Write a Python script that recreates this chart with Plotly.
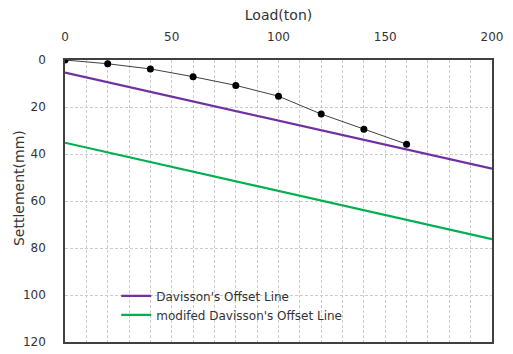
import plotly.graph_objects as go

load = [0, 20, 40, 60, 80, 100, 120, 140, 160]
settlement = [0, 1.6, 3.8, 7.1, 10.8, 15.4, 23.0, 29.5, 35.8]

offset_x = [0, 200]
davisson_y = [5.4, 46.2]
modified_y = [35.2, 76.2]

fig = go.Figure()
fig.add_trace(go.Scatter(x=load, y=settlement, mode="lines+markers",
                         line=dict(color="#404040", width=1),
                         marker=dict(color="black", size=7),
                         showlegend=False))
fig.add_trace(go.Scatter(x=offset_x, y=davisson_y, mode="lines",
                         line=dict(color="#7030A0", width=2.2),
                         name="Davisson's Offset Line"))
fig.add_trace(go.Scatter(x=offset_x, y=modified_y, mode="lines",
                         line=dict(color="#00B050", width=2.2),
                         name="modifed Davisson's Offset Line"))

font = "DejaVu Sans"
grid = dict(gridcolor="#cccccc", griddash="3px,2px", gridwidth=1)
fig.update_layout(
    width=513, height=354,
    margin=dict(l=65, r=21, t=60, b=12),
    paper_bgcolor="white", plot_bgcolor="white",
    font=dict(family=font, size=12, color="#333333"),
    legend=dict(x=0.12, y=0.215, xanchor="left", yanchor="top",
                bgcolor="rgba(0,0,0,0)", font=dict(size=12, color="#333333"),
                itemwidth=30, tracegroupgap=0),
    annotations=[dict(text="Settlement(mm)", textangle=-90, showarrow=False,
                      xref="paper", yref="paper", x=0, y=0.546,
                      xanchor="center", yanchor="middle", xshift=-46,
                      font=dict(size=14, color="#333333"))],
)
fig.update_xaxes(
    side="top", range=[0, 200], dtick=50, tick0=0, automargin=False,
    tickfont=dict(size=12),
    title=dict(text="Load(ton)", font=dict(size=14), standoff=7),
    showline=True, linecolor="#404040", linewidth=1.5, mirror=True,
    ticks="", ticklabelstandoff=12, showgrid=True, **grid,
    minor=dict(dtick=10, showgrid=True, **grid),
    zeroline=False,
)
fig.update_yaxes(
    range=[120, 0], dtick=20, tick0=0, automargin=False,
    tickfont=dict(size=12),
    showline=True, linecolor="#404040", linewidth=1.5, mirror=True,
    ticks="", ticklabelstandoff=15, showgrid=True, **grid,
    zeroline=False,
)
fig.write_html("out.html",
               config={"displayModeBar": False},
               post_script="document.body.style.margin='0';document.body.style.overflow='hidden';")
